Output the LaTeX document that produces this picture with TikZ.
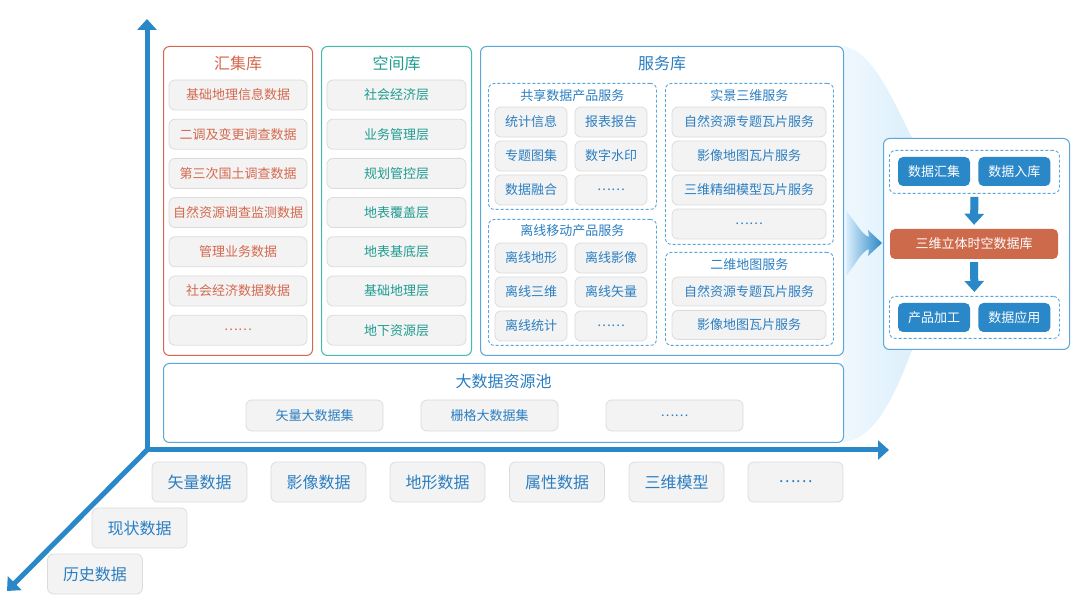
\documentclass[tikz,border=0pt]{standalone}
\usepackage{fontspec}
\setmainfont{Noto Sans CJK SC}
\usetikzlibrary{positioning,arrows.meta,calc}
\definecolor{axisblue}{HTML}{2A87C8}
\definecolor{colred}{HTML}{D4694F}
\definecolor{spateal}{HTML}{3FBDAF}
\definecolor{spatext}{HTML}{1E9C90}
\definecolor{srvline}{HTML}{5BA6DA}
\definecolor{srvtext}{HTML}{2B7EC1}
\definecolor{itemfill}{HTML}{F3F3F3}
\definecolor{itemline}{HTML}{DCDCDC}
\definecolor{coredb}{HTML}{CD6A4C}
\definecolor{funnelA}{HTML}{F0F8FE}
\definecolor{funnelB}{HTML}{DCEFFB}
\tikzset{
  panel/.style={draw, rounded corners=6pt, line width=1pt, fill=white, anchor=north west, inner sep=0pt},
  group/.style={draw=srvline, dashed, dash pattern=on 3pt off 2pt, rounded corners=6pt, line width=0.9pt, anchor=north west, inner sep=0pt},
  paneltitle/.style={font=\fontsize{16pt}{18pt}\selectfont, inner sep=0pt},
  grouptitle/.style={font=\fontsize{13pt}{15pt}\selectfont, text=srvtext, inner sep=0pt},
  item/.style={draw=itemline, fill=itemfill, rounded corners=6pt, line width=0.8pt, minimum height=30pt, inner sep=0pt, font=\fontsize{13pt}{15pt}\selectfont},
  col item/.style={item, text=colred, minimum width=138pt},
  spa item/.style={item, text=spatext, minimum width=139pt},
  short item/.style={item, text=srvtext, minimum width=72pt},
  long item/.style={item, text=srvtext, minimum width=154pt},
  pool item/.style={item, text=srvtext, minimum width=137pt, minimum height=31pt},
  dim item/.style={item, text=srvtext, minimum width=95pt, minimum height=40pt, font=\fontsize{16pt}{18pt}\selectfont},
  flow item/.style={fill=axisblue, text=white, rounded corners=5pt, minimum width=72pt, minimum height=29pt, inner sep=0pt, font=\fontsize{13pt}{15pt}\selectfont},
  flow arrow/.style={axisblue, line width=8pt, -{Triangle[width=19pt,length=11pt]}, shorten <=3pt, shorten >=4pt},
  axis/.style={axisblue, line width=5pt, line join=miter},
  axis tip/.style={-{Triangle[width=19pt,length=11pt]}},
}
\begin{document}
\begin{tikzpicture}[x=1pt,y=-1pt]
\useasboundingbox (0,0) rectangle (1080,612);
% background funnel towards the flow panel
\shade[left color=funnelA, right color=funnelB] (843,46) .. controls (872,50) and (893,100) .. (912,138) -- (912,350) .. controls (895,395) and (875,440) .. (843,442) -- cycle;
% the axes
\coordinate (origin) at (147,450);
\coordinate (ytip) at (147,19);
\coordinate (xtip) at (889,450);
\coordinate (ztip) at (7,591);
\draw[axis,axis tip] (origin) -- (ytip);
\draw[axis,axis tip] (origin) -- (xtip);
\draw[axis,axis tip] (origin) -- (ztip);
% 汇集库
\node [panel, draw=colred, minimum width=149pt, minimum height=309pt] (col) at (163,46) {};
\node [paneltitle, text=colred] (colT) at ($(col.north)+(0,17)$) {汇集库};
\node [col item] (colA) at (238,95) {基础地理信息数据};
\node [col item, below=8.4pt of colA] (colB) {二调及变更调查数据};
\node [col item, below=8.4pt of colB] (colC) {第三次国土调查数据};
\node [col item, below=8.4pt of colC] (colD) {自然资源调查监测数据};
\node [col item, below=8.4pt of colD] (colE) {管理业务数据};
\node [col item, below=8.4pt of colE] (colF) {社会经济数据数据};
\node [col item, below=8.4pt of colF] (colG) {……};
% 空间库
\node [panel, draw=spateal, minimum width=150pt, minimum height=309pt] (spa) at (321,46) {};
\node [paneltitle, text=spatext] (spaT) at ($(spa.north)+(0,17)$) {空间库};
\node [spa item] (spaA) at (396.5,95) {社会经济层};
\node [spa item, below=8.4pt of spaA] (spaB) {业务管理层};
\node [spa item, below=8.4pt of spaB] (spaC) {规划管控层};
\node [spa item, below=8.4pt of spaC] (spaD) {地表覆盖层};
\node [spa item, below=8.4pt of spaD] (spaE) {地表基底层};
\node [spa item, below=8.4pt of spaE] (spaF) {基础地理层};
\node [spa item, below=8.4pt of spaF] (spaG) {地下资源层};
% 服务库
\node [panel, draw=srvline, minimum width=363pt, minimum height=309pt] (srv) at (480,46) {};
\node [paneltitle, text=srvtext] (srvT) at ($(srv.north)+(0,17)$) {服务库};
% 共享数据产品服务
\node [group, minimum width=168pt, minimum height=126pt] (shr) at (488,83) {};
\node [grouptitle] (shrT) at ($(shr.north)+(0,13)$) {共享数据产品服务};
\node [short item] (shrA) at (531,122) {统计信息};
\node [short item, right=7.2pt of shrA] (shrB) {报表报告};
\node [short item, below=3.2pt of shrA] (shrC) {专题图集};
\node [short item, right=7.2pt of shrC] (shrD) {数字水印};
\node [short item, below=3.2pt of shrC] (shrE) {数据融合};
\node [short item, right=7.2pt of shrE] (shrF) {……};
% 离线移动产品服务
\node [group, minimum width=168pt, minimum height=126pt] (off) at (488,219) {};
\node [grouptitle] (offT) at ($(off.north)+(0,12)$) {离线移动产品服务};
\node [short item] (offA) at (531,258) {离线地形};
\node [short item, right=7.2pt of offA] (offB) {离线影像};
\node [short item, below=3.2pt of offA] (offC) {离线三维};
\node [short item, right=7.2pt of offC] (offD) {离线矢量};
\node [short item, below=3.2pt of offC] (offE) {离线统计};
\node [short item, right=7.2pt of offE] (offF) {……};
% 实景三维服务
\node [group, minimum width=168pt, minimum height=161pt] (sj) at (665,83) {};
\node [grouptitle] (sjT) at ($(sj.north)+(0,13)$) {实景三维服务};
\node [long item] (sjA) at (749,122) {自然资源专题瓦片服务};
\node [long item, below=3.2pt of sjA] (sjB) {影像地图瓦片服务};
\node [long item, below=3.2pt of sjB] (sjC) {三维精细模型瓦片服务};
\node [long item, below=3.2pt of sjC] (sjD) {……};
% 二维地图服务
\node [group, minimum width=168pt, minimum height=93pt] (ew) at (665,252) {};
\node [grouptitle] (ewT) at ($(ew.north)+(0,13)$) {二维地图服务};
\node [long item, minimum height=29pt] (ewA) at (749,291.5) {自然资源专题瓦片服务};
\node [long item, minimum height=29pt, below=3.6pt of ewA] (ewB) {影像地图瓦片服务};
% 大数据资源池
\node [panel, draw=srvline, minimum width=680pt, minimum height=79pt] (pool) at (163,363) {};
\node [paneltitle, text=srvtext] (poolT) at ($(pool.north)+(0,18.5)$) {大数据资源池};
\node [pool item] (poolA) at (314.5,415.5) {矢量大数据集};
\node [pool item, right=37.2pt of poolA] (poolB) {栅格大数据集};
\node [pool item, right=47.2pt of poolB] (poolC) {……};
% data types along the axes
\node [dim item] (dimA) at (199.5,482) {矢量数据};
\node [dim item, right=23.2pt of dimA] (dimB) {影像数据};
\node [dim item, right=23.2pt of dimB] (dimC) {地形数据};
\node [dim item, right=23.7pt of dimC] (dimD) {属性数据};
\node [dim item, right=23.7pt of dimD] (dimE) {三维模型};
\node [dim item, right=23.2pt of dimE] (dimF) {……};
\node [dim item] (dimG) at (139.5,528) {现状数据};
\node [dim item] (dimH) at (95,574) {历史数据};
% gradient arrow into the flow panel
\shade[left color=funnelB, right color=axisblue] (846,211) .. controls (856,222) and (861,234) .. (869,237) -- (868,230) -- (882,243) -- (868,256) -- (869,249) .. controls (861,252) and (856,264) .. (846,276) -- cycle;
% the flow panel
\node [panel, draw=srvline, minimum width=186pt, minimum height=211pt] (flow) at (883,138) {};
\node [group, minimum width=170pt, minimum height=43pt] (flowTop) at (889,150) {};
\node [flow item] (flowA) at (934,171.5) {数据汇集};
\node [flow item, right=8pt of flowA] (flowB) {数据入库};
\node [flow item, fill=coredb, minimum width=168pt, minimum height=30pt] (core) at (974,244) {三维立体时空数据库};
\node [group, minimum width=170pt, minimum height=42pt] (flowBot) at (889,296) {};
\node [flow item] (flowC) at (934,317.5) {产品加工};
\node [flow item, right=8pt of flowC] (flowD) {数据应用};
%drawings of the flow arrows
\draw[flow arrow] (flowTop.south) -- (core.north);
\draw[flow arrow] (core.south) -- (flowBot.north);
\end{tikzpicture}
\end{document}
